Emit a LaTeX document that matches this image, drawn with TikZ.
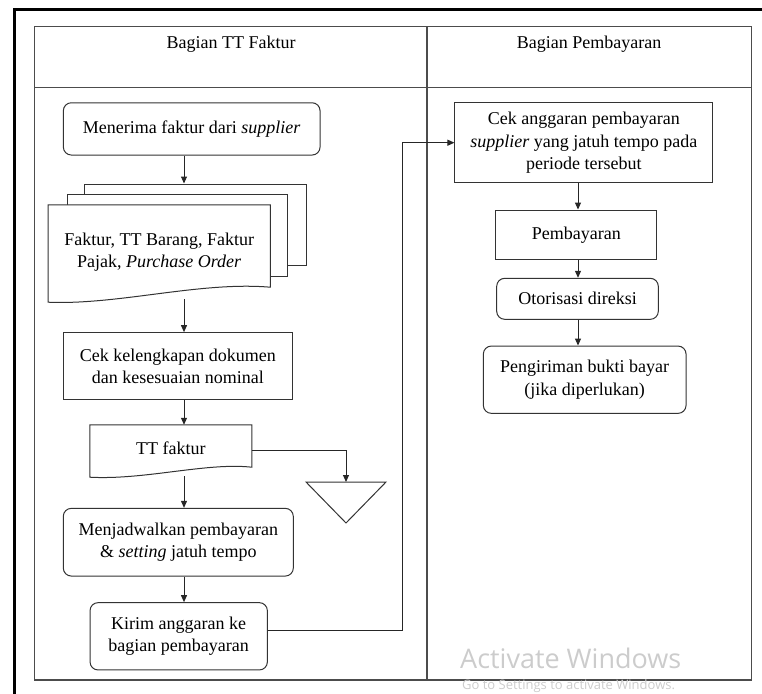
\documentclass[tikz,border=0pt]{standalone}
\usepackage{fontspec}
\setmainfont{Liberation Serif}
\newfontfamily\winfont{Open Sans}
\usetikzlibrary{arrows.meta}

\begin{document}
\begin{tikzpicture}[x=1pt, y=-1pt,
  every node/.style={font=\fontsize{18}{22.5}\selectfont, align=center, inner sep=0pt},
  box/.style={draw=black!80, line width=1pt, fill=white},
  rbox/.style={box, rounded corners=8pt},
  arr/.style={-{Triangle[length=7pt,width=6pt]}, line width=1pt, draw=black!85},
  lane/.style={draw=black!70, line width=1.2pt},
  wmark/.style={anchor=base west, text=black!20}]
\useasboundingbox (0,0) rectangle (762,693);

% frame and lanes
\draw[line width=3pt] (14.5,700) -- (14.5,9.5) -- (770,9.5);
\draw[lane] (34.7,26.7) rectangle (751.7,680);
\draw[lane] (34.7,87.7) -- (751.7,87.7);
\draw[lane] (427,26.7) -- (427,680);
\node (hkiri) at (231,44) {Bagian TT Faktur};
\node (hkanan) at (589,44) {Bagian Pembayaran};

\coordinate (sumbu) at (184,0);
\coordinate (sumbu2) at (578,0);

% Bagian TT Faktur
\node[rbox, minimum width=256.7pt, minimum height=52.3pt] (menerima) at (191.7,128.9) {Menerima faktur dari \textit{supplier}};
\node[box, minimum width=222pt, minimum height=81pt] (lbr3) at (195,224.5) {};
\node[box, minimum width=220pt, minimum height=82.4pt] (lbr2) at (177.3,235.5) {};
\node[minimum width=221.7pt, minimum height=94pt] (faktur) at (159.2,252) {};
\draw[box] (faktur.north west) -- (faktur.north east) -- ([yshift=12pt]faktur.south east)
  .. controls ([xshift=-70pt,yshift=18pt]faktur.south east) and ([xshift=70pt,yshift=-6pt]faktur.south west) .. ([yshift=-3pt]faktur.south west) -- cycle;
\node at (faktur) {Faktur, TT Barang, Faktur\\Pajak, \textit{Purchase Order}};
\node[box, minimum width=229pt, minimum height=67.3pt] (cek) at (177.8,366.3) {Cek kelengkapan dokumen\\dan kesesuaian nominal};
\node[minimum width=161.7pt, minimum height=50pt] (ttf) at (170.8,450) {};
\draw[box] (ttf.north west) -- (ttf.north east) -- ([yshift=8pt]ttf.south east)
  .. controls ([xshift=-45pt,yshift=13pt]ttf.south east) and ([xshift=55pt,yshift=-5pt]ttf.south west) .. ([yshift=-2pt]ttf.south west) -- cycle;
\node at ([yshift=2pt]ttf.center) {TT faktur};
\coordinate (arsip) at (346,482);
\draw[box] (306,482) -- (386,482) -- (346,523) -- cycle;
\node[rbox, minimum width=230pt, minimum height=67.7pt] (jadwal) at (178.3,542.2) {Menjadwalkan pembayaran\\\& \textit{setting} jatuh tempo};
\node[rbox, minimum width=177.3pt, minimum height=67.3pt] (kirim) at (178.7,636.3) {Kirim anggaran ke\\bagian pembayaran};

% Bagian Pembayaran
\node[box, minimum width=257.7pt, minimum height=80pt] (cekang) at (583.8,142.7) {Cek anggaran pembayaran\\\textit{supplier} yang jatuh tempo pada\\periode tersebut};
\node[box, minimum width=160.7pt, minimum height=49.3pt] (bayar) at (576.3,234.7) {Pembayaran};
\node[rbox, minimum width=161.6pt, minimum height=41pt] (otor) at (577.5,298.8) {Otorisasi direksi};
\node[rbox, minimum width=202.7pt, minimum height=67.3pt] (bukti) at (584.7,379.7) {Pengiriman bukti bayar\\(jika diperlukan)};
\coordinate (belok) at (402,142.7);

\draw[arr] (menerima.south -| sumbu) -- (lbr3.north -| sumbu);
\draw[arr] (faktur.south -| sumbu) -- (cek.north -| sumbu);
\draw[arr] (cek.south -| sumbu) -- (ttf.north -| sumbu);
\draw[arr] (ttf.east) -| (arsip);
\draw[arr] ([yshift=-1pt]ttf.south -| sumbu) -- (jadwal.north -| sumbu);
\draw[arr] (jadwal.south -| sumbu) -- (kirim.north -| sumbu);
\draw[arr] ([yshift=6pt]kirim.east) -| (belok) -- (cekang.west);
\draw[arr] (cekang.south -| sumbu2) -- (bayar.north -| sumbu2);
\draw[arr] (bayar.south -| sumbu2) -- (otor.north -| sumbu2);
\draw[arr] (otor.south -| sumbu2) -- (bukti.north -| sumbu2);

\node[wmark, font=\winfont\fontsize{27}{32}\selectfont] (aktif) at (460,668) {Activate Windows};
\node[wmark, font=\winfont\fontsize{13}{16}\selectfont] (aktif2) at (462,689.5) {Go to Settings to activate Windows.};
\end{tikzpicture}
\end{document}
